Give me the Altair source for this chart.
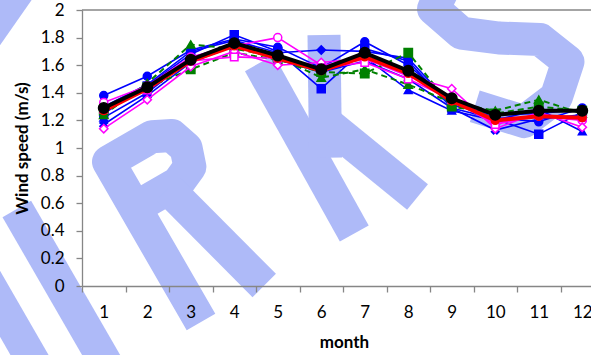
import math
import altair as alt
import pandas as pd

# ---------------- data ----------------
months = [1, 2, 3, 4, 5, 6, 7, 8, 9, 10, 11, 12]
x_tick_values = [0.5, 1.5, 2.5, 3.5, 4.5, 5.5, 6.5, 7.5, 8.5, 9.5, 10.5, 11.5]
y_tick_values = [0, 0.2, 0.4, 0.6, 0.8, 1.0, 1.2, 1.4, 1.6, 1.8, 2.0]

blue_circle = [1.38, 1.52, 1.71, 1.79, 1.73, 1.58, 1.77, 1.60, 1.33, 1.22, 1.19, 1.29]
blue_square = [1.25, 1.45, 1.68, 1.82, 1.70, 1.43, 1.72, 1.63, 1.29, 1.21, 1.10, 1.26]
blue_triangle = [1.22, 1.40, 1.65, 1.76, 1.66, 1.55, 1.66, 1.42, 1.27, 1.20, 1.28, 1.12]
blue_diamond = [1.30, 1.46, 1.70, 1.78, 1.69, 1.71, 1.70, 1.65, 1.31, 1.24, 1.25, 1.28]
blue_cross = [1.17, 1.38, 1.62, 1.74, 1.64, 1.55, 1.63, 1.50, 1.29, 1.13, 1.21, 1.24]
green_triangle = [1.24, 1.47, 1.75, 1.72, 1.66, 1.51, 1.57, 1.46, 1.33, 1.27, 1.35, 1.25]
green_square = [1.27, 1.44, 1.57, 1.69, 1.64, 1.55, 1.54, 1.69, 1.30, 1.25, 1.30, 1.27]
magenta_circle = [1.33, 1.45, 1.66, 1.74, 1.80, 1.60, 1.64, 1.55, 1.37, 1.18, 1.23, 1.20]
magenta_diamond = [1.14, 1.35, 1.59, 1.70, 1.60, 1.62, 1.65, 1.52, 1.43, 1.14, 1.26, 1.15]
magenta_square = [1.28, 1.42, 1.63, 1.66, 1.65, 1.58, 1.62, 1.50, 1.35, 1.17, 1.24, 1.22]
red_mean = [1.27, 1.43, 1.63, 1.74, 1.65, 1.56, 1.66, 1.54, 1.34, 1.20, 1.23, 1.22]
black_mean = [1.29, 1.44, 1.64, 1.76, 1.67, 1.57, 1.69, 1.56, 1.36, 1.24, 1.27, 1.27]

# ---------------- styles ----------------
BLUE, GREEN, MAG, RED = "#0000ff", "#008000", "#ff00ff", "#ff0000"
# (values, line color, dash, line width, shape, marker fill, marker stroke, size, angle)
styles = [
    (blue_circle, BLUE, None, 1.6, "circle", BLUE, BLUE, 64, 0),
    (blue_square, BLUE, None, 1.6, "square", BLUE, BLUE, 64, 0),
    (blue_triangle, BLUE, None, 1.6, "triangle-up", BLUE, BLUE, 60, 0),
    (blue_diamond, BLUE, None, 1.6, "diamond", BLUE, BLUE, 70, 0),
    (blue_cross, BLUE, None, 1.6, "cross", BLUE, BLUE, 60, 45),
    (green_triangle, GREEN, [6, 4], 2.0, "triangle-up", GREEN, GREEN, 70, 0),
    (green_square, GREEN, [6, 4], 2.0, "square", GREEN, GREEN, 70, 0),
    (magenta_circle, MAG, None, 1.6, "circle", "white", MAG, 64, 0),
    (magenta_diamond, MAG, None, 1.6, "diamond", "white", MAG, 70, 0),
    (magenta_square, MAG, None, 1.6, "square", "white", MAG, 56, 0),
    (red_mean, RED, None, 4.0, "circle", RED, RED, 60, 0),
    (black_mean, "#000000", None, 4.0, "circle", "#000000", "#000000", 110, 0),
]

PLOT_W, PLOT_H = 509, 276
PAD_L, PAD_T = 82, 10
UNIT = 43.5

# ---------------- watermark (decoration, drawn as thick strokes) ----------------
# strokes in a letter frame (a = along tilted baseline, b = up), converted to pixels
WM_ORIGIN = (201, 322)
WM_TILT = math.radians(30)
wm_strokes = {
    "N1": [(-165, 0), (-165, 190)],
    "N2": [(-103, 0), (-103, 190)],
    "R1": [(0, 0), (0, 185), (50, 185), (68, 176), (74, 158), (68, 140), (50, 132), (5, 132)],
    "R2": [(38, 132), (73, 0)],
    "K1": [(177, 0), (180, 195)],
    "K2": [(190, 80), (250, 187)],
    "K3": [(210, 105), (250, 0)],
    "S1": [(440, 150), (400, 183), (358, 155), (370, 120), (400, 97), (435, 75),
           (448, 42), (420, 17), (380, 12), (345, 50)],
}
wm_screen_strokes = {"T1": [(-20, 45), (22, -15)]}


def to_plot_px(a, b):
    ca, sa = math.cos(WM_TILT), math.sin(WM_TILT)
    x = WM_ORIGIN[0] + a * ca - b * sa
    y = WM_ORIGIN[1] - a * sa - b * ca
    return x - PAD_L, y - PAD_T


wm_rows = []
for name, pts in wm_strokes.items():
    for i, (a, b) in enumerate(pts):
        px, py = to_plot_px(a, b)
        wm_rows.append({"stroke": name, "i": i, "px": px, "py": py})
for name, pts in wm_screen_strokes.items():
    for i, (x, y) in enumerate(pts):
        wm_rows.append({"stroke": name, "i": i, "px": x - PAD_L, "py": y - PAD_T})
wm_df = pd.DataFrame(wm_rows)

x_scale = alt.Scale(domain=[0.5, 0.5 + PLOT_W / UNIT], nice=False, zero=False)
y_scale = alt.Scale(domain=[0, 2], nice=False, zero=False)

x_axis = alt.Axis(
    values=x_tick_values,
    labelExpr="format(datum.value + 0.5, 'd')",
    labelOffset=UNIT / 2,
    labelFlush=False,
    labelOverlap=False,
    labelBound=False,
    grid=False,
    tickSize=6,
    labelPadding=12,
    title="month",
    titleX=262,
    titleY=56,
    titleBaseline="middle",
    titleAlign="center",
    zindex=2,
)
y_axis = alt.Axis(
    values=y_tick_values,
    format="~g",
    grid=False,
    tickSize=6,
    labelPadding=12,
    title="Wind speed (m/s)",
    titleAngle=270,
    titleX=-60,
    titleY=PLOT_H / 2,
    titleBaseline="middle",
    titleAlign="center",
    zindex=2,
)

layers = []
watermark = alt.Chart(wm_df).mark_line(
    color="#aebaf8", strokeWidth=33, strokeCap="butt", strokeJoin="round",
).encode(
    x=alt.X("px:Q", scale=None),
    y=alt.Y("py:Q", scale=None),
    detail="stroke:N",
    order="i:Q",
)
layers.append(watermark)

# top border of plot area
border = alt.Chart(pd.DataFrame({"v": [2.0]})).mark_rule(
    color="#868686", strokeWidth=1.3
).encode(y=alt.Y("v:Q", scale=y_scale, axis=y_axis))
layers.append(border)

for vals, col, dash, lw, shape, mfill, mstroke, size, ang in styles:
    df = pd.DataFrame({"month": months, "value": vals})
    base = alt.Chart(df).encode(
        x=alt.X("month:Q", scale=x_scale, axis=x_axis),
        y=alt.Y("value:Q", scale=y_scale, axis=y_axis),
    )
    line_kw = dict(color=col, strokeWidth=lw)
    if dash:
        line_kw["strokeDash"] = dash
    layers.append(base.mark_line(**line_kw))
    pt_kw = dict(shape=shape, filled=True, fill=mfill, stroke=mstroke,
                 strokeWidth=1.5, size=size, opacity=1)
    if ang:
        pt_kw["angle"] = ang
    layers.append(base.mark_point(**pt_kw))

chart = alt.layer(*layers).properties(
    width=PLOT_W,
    height=PLOT_H,
    autosize=alt.AutoSizeParams(type="none"),
    padding={"left": PAD_L, "top": PAD_T, "right": 0, "bottom": 69},
    background="white",
).configure_view(stroke=None).configure_axis(
    domainColor="#868686",
    tickColor="#868686",
    domainWidth=1.3,
    tickWidth=1.3,
    labelColor="#000000",
    labelFont="Lato",
    labelFontSize=17,
    titleFont="Lato",
    titleFontSize=17,
    titleFontWeight="bold",
    titleColor="#000000",
)

chart.save("out.html", embed_options={"renderer": "svg", "actions": False})
